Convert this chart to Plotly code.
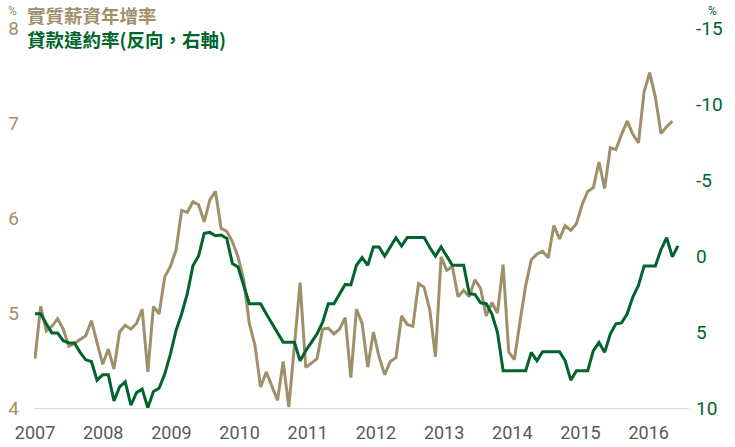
import plotly.graph_objects as go

# Monthly data, Jan 2007 onward
years = [2007, 2008, 2009, 2010, 2011, 2012, 2013, 2014, 2015, 2016]

real_wage_growth = [
    4.52, 5.07, 4.81, 4.86, 4.94, 4.83, 4.65, 4.68, 4.72, 4.76, 4.92, 4.68,
    4.46, 4.62, 4.41, 4.80, 4.87, 4.83, 4.89, 5.04, 4.38, 5.07, 4.99, 5.38,
    5.49, 5.66, 6.08, 6.06, 6.17, 6.14, 5.96, 6.19, 6.28, 5.89, 5.86, 5.75,
    5.59, 5.35, 4.89, 4.66, 4.22, 4.38, 4.24, 4.08, 4.49, 4.01, 4.66, 5.32,
    4.43, 4.47, 4.52, 4.83, 4.84, 4.78, 4.83, 4.95, 4.32, 5.04, 4.89, 4.43,
    4.80, 4.54, 4.35, 4.49, 4.53, 4.97, 4.88, 4.86, 5.31, 5.27, 5.03, 4.54,
    5.59, 5.45, 5.49, 5.17, 5.24, 5.17, 5.35, 5.26, 4.97, 5.11, 5.00, 5.51,
    4.59, 4.51, 4.91, 5.29, 5.56, 5.62, 5.65, 5.58, 5.92, 5.78, 5.92, 5.87,
    5.94, 6.14, 6.28, 6.32, 6.59, 6.31, 6.74, 6.72, 6.88, 7.02, 6.88, 6.79,
    7.33, 7.53, 7.27, 6.89, 6.96, 7.02,
]

loan_default_rate = [
    3.80, 3.80, 4.46, 5.06, 5.06, 5.57, 5.72, 5.72, 6.34, 6.83, 6.94, 8.17,
    7.82, 7.82, 9.54, 8.61, 8.28, 9.82, 8.99, 8.76, 9.98, 8.92, 8.70, 7.77,
    6.45, 4.91, 3.80, 2.48, 0.65, 0.00, -1.49, -1.55, -1.33, -1.38, -1.16, 0.50,
    0.72, 1.93, 3.14, 3.14, 3.14, 3.80, 4.42, 5.09, 5.68, 5.68, 5.68, 6.89,
    6.23, 5.68, 5.13, 4.36, 3.14, 3.14, 2.53, 1.87, 1.90, 0.61, 0.10, 0.61,
    -0.60, -0.60, 0.01, -0.60, -1.20, -0.65, -1.22, -1.22, -1.22, -1.22, -0.56, 0.01,
    -0.60, 0.01, 0.61, 0.61, 0.61, 2.48, 2.53, 3.08, 3.14, 3.80, 5.02, 7.55,
    7.55, 7.55, 7.55, 7.55, 6.34, 6.89, 6.30, 6.30, 6.30, 6.30, 6.89, 8.17,
    7.55, 7.55, 7.55, 6.23, 5.68, 6.34, 5.13, 4.46, 4.40, 3.80, 2.70, 1.93,
    0.65, 0.65, 0.65, -0.43, -1.20, 0.06, -0.67,
]

left_ticks = [4, 5, 6, 7, 8]
right_ticks = [-15, -10, -5, 0, 5, 10]
right_tick_text = ["-15", "-10", "-5", "0", "5", "10"]

TAN = "#A0906A"
GREEN = "#00652C"
W, H = 735, 447
L, R, T, B = 34, 46, 28, 39

x_wage = list(range(len(real_wage_growth)))
x_loan = list(range(len(loan_default_rate)))

fig = go.Figure()
fig.add_trace(go.Scatter(x=x_wage, y=real_wage_growth, mode="lines",
                         line=dict(color=TAN, width=3), yaxis="y", name="實質薪資年增率"))
fig.add_trace(go.Scatter(x=x_loan, y=loan_default_rate, mode="lines",
                         line=dict(color=GREEN, width=3), yaxis="y2", name="貸款違約率(反向，右軸)"))

FONT = "Roboto, Liberation Sans, sans-serif"
month_step = 12.09
fig.update_layout(
    width=W, height=H,
    margin=dict(l=L, r=R, t=T, b=B),
    paper_bgcolor="white", plot_bgcolor="white",
    showlegend=False,
    xaxis=dict(range=[-0.18, 115.96], tickmode="array",
               tickvals=[(y - years[0]) * month_step for y in years],
               ticktext=[str(y) for y in years],
               showgrid=False, zeroline=False, showline=True, automargin=False,
               linecolor="#D9D9D9", linewidth=1, ticks="", ticklabelstandoff=8,
               tickfont=dict(family=FONT, size=18, color="#595959")),
    yaxis=dict(range=[4, 8], tickvals=left_ticks, showgrid=False, zeroline=False,
               showline=False, ticks="", ticklabelstandoff=14, automargin=False,
               tickfont=dict(family=FONT, size=19, color=TAN)),
    yaxis2=dict(range=[10, -15], tickvals=right_ticks, ticktext=right_tick_text,
                overlaying="y", side="right", automargin=False,
                showgrid=False, zeroline=False, showline=False, ticks="",
                ticklabelstandoff=6,
                tickfont=dict(family=FONT, size=19, color=GREEN)),
)

def px(xp):
    return (xp - L) / (W - L - R)

def py(yp):
    return (H - B - yp) / (H - T - B)

cjk = "Noto Sans CJK TC, Noto Sans CJK SC, sans-serif"
title_text = (f"<span style='color:{TAN}'><b>實質薪資年增率</b></span><br>"
              f"<span style='color:{GREEN}'><b>貸款違約率(反向，右軸)</b></span>")
fig.add_annotation(x=px(25), y=py(27), xref="paper", yref="paper", xanchor="left", yanchor="middle",
                   text=title_text, showarrow=False, align="left",
                   font=dict(family=cjk, size=18.5))
fig.add_annotation(x=px(12), y=py(11), xref="paper", yref="paper", xanchor="center", yanchor="middle",
                   text="%", showarrow=False, font=dict(family=FONT, size=12, color=TAN))
fig.add_annotation(x=px(712), y=py(11), xref="paper", yref="paper", xanchor="center", yanchor="middle",
                   text="%", showarrow=False, font=dict(family=FONT, size=12, color=GREEN))

fig.write_html("out.html")
